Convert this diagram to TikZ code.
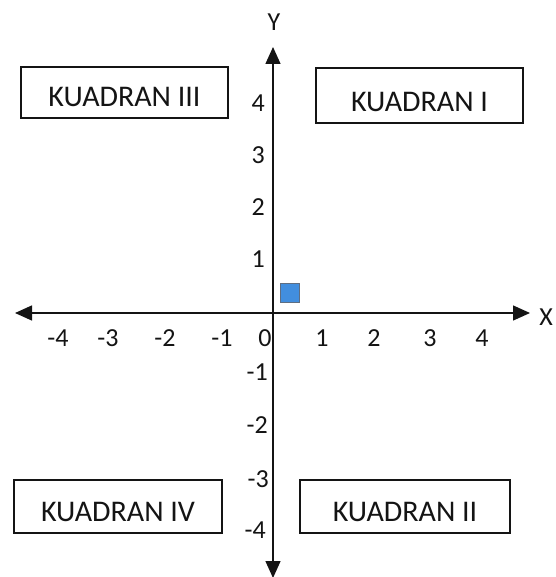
\documentclass[tikz,border=0pt]{standalone}
\usepackage{fontspec}
\setmainfont{Carlito}
\usetikzlibrary{arrows.meta}
\definecolor{axisink}{RGB}{20,20,20}
\definecolor{markfill}{RGB}{66,142,222}
\definecolor{markline}{RGB}{95,110,130}
\tikzset{
  axisline/.style={draw=axisink, line width=1.4pt,
    {Triangle[length=17pt,width=15pt]}-{Triangle[length=17pt,width=15pt]}},
  quadbox/.style={draw=axisink, line width=1.3pt, fill=white},
  quadtext/.style={font=\fontsize{30}{30}\selectfont, text=axisink, inner sep=0pt},
  ticklbl/.style={font=\fontsize{26}{26}\selectfont, text=axisink, inner sep=0pt},
  axisname/.style={font=\fontsize{26}{26}\selectfont, text=axisink, inner sep=0pt},
}
\begin{document}
\begin{tikzpicture}[x=1pt, y=-1pt]
  \useasboundingbox (0,0) rectangle (555,577);
  \clip (0,0) rectangle (555,577);

  % axes
  \coordinate (xl) at (15,313);
  \coordinate (xr) at (530,313);
  \coordinate (yt) at (273,47);
  \coordinate (yb) at (273,578);
  \draw[axisline] (xl) -- (xr);
  \draw[axisline] (yt) -- (yb);

  \node[axisname] (ylab) at (274,22) {Y};
  \node[axisname] (xlab) at (546,317) {X};

  % tick labels on the x axis
  \node[ticklbl] (xm4) at (58,338) {-4};
  \node[ticklbl] (xm3) at (108,338) {-3};
  \node[ticklbl] (xm2) at (165,338) {-2};
  \node[ticklbl] (xm1) at (222,338) {-1};
  \node[ticklbl] (x0)  at (265,338) {0};
  \node[ticklbl] (x1)  at (322,338) {1};
  \node[ticklbl] (x2)  at (374,338) {2};
  \node[ticklbl] (x3)  at (430,338) {3};
  \node[ticklbl] (x4)  at (482,338) {4};

  % tick labels on the y axis
  \node[ticklbl, anchor=east] (y4)  at (265,103) {4};
  \node[ticklbl, anchor=east] (y3)  at (265,155) {3};
  \node[ticklbl, anchor=east] (y2)  at (265,207) {2};
  \node[ticklbl, anchor=east] (y1)  at (265,259) {1};
  \node[ticklbl, anchor=east] (ym1) at (268,372) {-1};
  \node[ticklbl, anchor=east] (ym2) at (268,425) {-2};
  \node[ticklbl, anchor=east] (ym3) at (269,479) {-3};
  \node[ticklbl, anchor=east] (ym4) at (266,530) {-4};

  % small marker square
  \draw[fill=markfill, draw=markline, line width=1pt] (280,283) rectangle (299,302);

  % quadrant boxes
  \draw[quadbox] (21,67) rectangle (228,118);
  \node[quadtext] (q3) at (124.5,97) {KUADRAN III};
  \draw[quadbox] (316,68) rectangle (523,123);
  \node[quadtext] (q1) at (419.5,102) {KUADRAN I};
  \draw[quadbox] (14,480) rectangle (222,533);
  \node[quadtext] (q4) at (118,512) {KUADRAN IV};
  \draw[quadbox] (300,480) rectangle (510,533);
  \node[quadtext] (q2) at (405,512) {KUADRAN II};
\end{tikzpicture}
\end{document}
